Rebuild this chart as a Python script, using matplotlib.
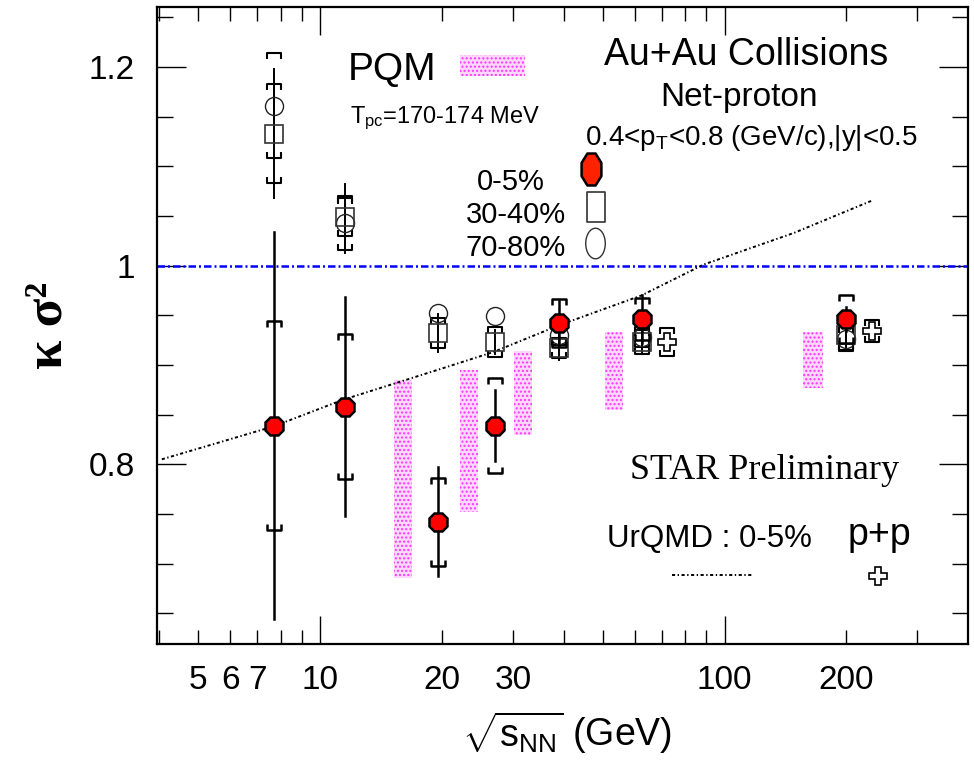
import matplotlib
matplotlib.use("Agg")
import matplotlib.pyplot as plt
import matplotlib.ticker as mtick
from matplotlib import font_manager
from matplotlib.lines import Line2D
from matplotlib.patches import Rectangle
from matplotlib.path import Path
from matplotlib.transforms import Affine2D

# ---- data ----
energy = [7.7, 11.5, 19.6, 27, 39, 62.4, 200]

k_central = [0.839, 0.858, 0.742, 0.839, 0.942, 0.946, 0.946]
stat_central = [0.195, 0.110, 0.055, 0.036, 0.022, 0.024, 0.012]
sys_central = [0.105, 0.073, 0.044, 0.048, 0.024, 0.021, 0.024]

k_mid = [1.133, 1.049, 0.932, 0.923, 0.917, 0.923, 0.930]
stat_mid = [0.065, 0.033, 0.019, 0.012, 0.012, 0.012, 0.010]
sys_mid = [0.050, 0.019, 0.015, 0.015, 0.010, 0.012, 0.015]

k_peri = [1.161, 1.043, 0.952, 0.949, 0.930, 0.928, 0.926]
stat_peri = [0.035, 0.030, 0.0, 0.0, 0.010, 0.012, 0.010]
sys_peri = [0.053, 0.027, 0.0, 0.0, 0.010, 0.010, 0.012]

pp_energy = [72, 232]
k_pp = [0.923, 0.934]
stat_pp = [0.008, 0.008]
sys_pp = [0.014, 0.011]

pqm_e_lo = [15.2, 22.2, 30.2, 50.5, 156.7]
pqm_e_hi = [16.9, 24.6, 33.5, 56.2, 175.0]
pqm_low = [0.685, 0.752, 0.829, 0.855, 0.877]
pqm_high = [0.885, 0.895, 0.914, 0.933, 0.933]

urqmd_energy = [4.06, 7.65, 11.4, 19.5, 26.8, 39, 62.3, 88.6, 148.5, 233]
urqmd_k = [0.805, 0.838, 0.865, 0.895, 0.913, 0.940, 0.970, 1.001, 1.033, 1.066]

x_major = [10, 100]
x_minor = [4, 5, 6, 7, 8, 9, 20, 30, 40, 50, 60, 70, 80, 90, 200, 300]
x_labeled = [5, 6, 7, 10, 20, 30, 100, 200]

names = {f.name for f in font_manager.fontManager.ttflist}
narrow = "Liberation Sans Narrow" if "Liberation Sans Narrow" in names else "Liberation Sans"
leg_size = 23 if narrow == "Liberation Sans Narrow" else 21

plt.rcParams["font.family"] = ["Liberation Sans", "DejaVu Sans"]
plt.rcParams["mathtext.fontset"] = "custom"
plt.rcParams["mathtext.rm"] = "Liberation Sans"
plt.rcParams["mathtext.it"] = "Liberation Sans:italic"
plt.rcParams["hatch.linewidth"] = 1.0

W, H = 974, 761
fig = plt.figure(figsize=(W / 100, H / 100), dpi=100)


def fx(px):
    return px / W


def fy(py):
    return 1 - py / H


ax = fig.add_axes([fx(157), fy(644), (968 - 157) / W, (644 - 7) / H])
ax.set_xscale("log")
ax.set_xlim(3.95, 400)
ax.set_ylim(0.619, 1.2605)


def brackets(x, y, err, lw=1.6, color="black", z=4):
    for xi, yi, e in zip(x, y, err):
        if e <= 0:
            continue
        x0, x1 = xi / 1.041, xi * 1.041
        leg = 0.006
        ax.plot([x0, x0, x1, x1], [yi + e - leg, yi + e, yi + e, yi + e - leg],
                color=color, lw=lw, zorder=z, solid_capstyle="butt")
        ax.plot([x0, x0, x1, x1], [yi - e + leg, yi - e, yi - e, yi - e + leg],
                color=color, lw=lw, zorder=z, solid_capstyle="butt")


def stat_bars(x, y, err, lw=1.6, z=4):
    for xi, yi, e in zip(x, y, err):
        if e <= 0:
            continue
        ax.plot([xi, xi], [yi - e, yi + e], color="black", lw=lw, zorder=z)


# PQM bands
for lo, hi, ylo, yhi in zip(pqm_e_lo, pqm_e_hi, pqm_low, pqm_high):
    ax.fill_between([lo, hi], [ylo, ylo], [yhi, yhi], facecolor="#fcd8fc",
                    edgecolor="#ff33ff", hatch="....", linewidth=0, zorder=1)

# reference line at 1
ax.axhline(1.0, color="#0000ff", lw=1.8, ls=(0, (3.0, 1.2, 0.8, 1.2)), zorder=2)

# UrQMD
ax.plot(urqmd_energy, urqmd_k, color="black", lw=1.4, ls=(0, (1.6, 1.3, 0.7, 1.3)), zorder=3)

# 70-80 % circles and 30-40 % squares
stat_bars(energy, k_peri, stat_peri, lw=1.4)
brackets(energy, k_peri, sys_peri, lw=1.5)
stat_bars(energy, k_mid, stat_mid, lw=1.4)
brackets(energy, k_mid, sys_mid, lw=1.5)
ax.plot(energy, k_peri, ls="none", marker="o", ms=13, mfc="none", mec="#222222", mew=1.0, zorder=5)
ax.plot(energy, k_mid, ls="none", marker="s", ms=12.5, mfc="none", mec="#333333", mew=1.2, zorder=5)

# p+p
stat_bars(pp_energy, k_pp, stat_pp, lw=1.4)
brackets(pp_energy, k_pp, sys_pp, lw=1.5)
ax.plot(pp_energy, k_pp, ls="none", marker="P", ms=13, mfc="white", mec="black", mew=1.2, zorder=6)

# 0-5 % red
stat_bars(energy, k_central, stat_central, lw=1.8, z=6)
brackets(energy, k_central, sys_central, lw=1.8, z=6)
ax.plot(energy, k_central, ls="none", marker="8", ms=14, mfc="#ff0000", mec="black", mew=1.8, zorder=7)

# axes cosmetics
for s in ax.spines.values():
    s.set_linewidth(1.6)
ax.xaxis.set_major_locator(mtick.FixedLocator(x_major))
ax.xaxis.set_minor_locator(mtick.FixedLocator(x_minor))
lab = lambda v, pos: f"{v:g}" if round(v) in x_labeled else ""
ax.xaxis.set_major_formatter(mtick.FuncFormatter(lab))
ax.xaxis.set_minor_formatter(mtick.FuncFormatter(lab))
ax.yaxis.set_major_locator(mtick.FixedLocator([0.8, 1.0, 1.2]))
ax.yaxis.set_minor_locator(mtick.MultipleLocator(0.05))
ax.yaxis.set_major_formatter(mtick.FuncFormatter(lambda v, pos: f"{v:g}"))
ax.tick_params(which="both", direction="in", top=True, right=True, width=1.0, labelsize=24)
ax.tick_params(axis="x", which="major", length=20, pad=15)
ax.tick_params(axis="x", which="minor", length=10, pad=15)
ax.tick_params(axis="y", which="major", length=21, pad=16)
ax.tick_params(axis="y", which="minor", length=11.5)

# texts
fig.text(fx(348), fy(80), "PQM", fontsize=28, ha="left", va="baseline")
fig.add_artist(Rectangle((fx(460), fy(76)), 65 / W, 21 / H, transform=fig.transFigure,
                         facecolor="#fcd8fc", edgecolor="#ff33ff", hatch="....", linewidth=0))
fig.text(fx(350), fy(123), r"T$_{\mathrm{pc}}$=170-174 MeV", fontsize=17, ha="left", va="baseline")
fig.text(fx(746), fy(65), "Au+Au Collisions", fontsize=27, ha="center", va="baseline")
fig.text(fx(739), fy(106), "Net-proton", fontsize=24, ha="center", va="baseline")
fig.text(fx(751), fy(145), r"0.4<p$_{\mathrm{T}}$<0.8 (GeV/c),|y|<0.5", fontsize=20, ha="center", va="baseline")

fig.text(fx(545), fy(190), "0-5%", fontsize=leg_size, family=narrow, ha="right", va="baseline")
fig.text(fx(566), fy(223), "30-40%", fontsize=leg_size, family=narrow, ha="right", va="baseline")
fig.text(fx(566), fy(256), "70-80%", fontsize=leg_size, family=narrow, ha="right", va="baseline")

oct_marker = Path.unit_regular_polygon(8).transformed(Affine2D().rotate_deg(22.5).scale(0.62, 1.0))
rect_marker = Path([(-0.31, -0.5), (0.31, -0.5), (0.31, 0.5), (-0.31, 0.5), (-0.31, -0.5)],
                   [Path.MOVETO, Path.LINETO, Path.LINETO, Path.LINETO, Path.CLOSEPOLY])
ell_marker = Path.unit_circle().transformed(Affine2D().scale(0.64, 1.0))
fig.add_artist(Line2D([fx(591)], [fy(169)], marker=oct_marker, ms=23, mfc="#ff2200", mec="black",
                      mew=1.8, ls="none", transform=fig.transFigure))
fig.add_artist(Line2D([fx(596)], [fy(207)], marker=rect_marker, ms=22, mfc="none", mec="#333333",
                      mew=1.2, ls="none", transform=fig.transFigure))
fig.add_artist(Line2D([fx(595)], [fy(243)], marker=ell_marker, ms=22, mfc="none", mec="#333333",
                      mew=1.0, ls="none", transform=fig.transFigure))

fig.text(fx(630), fy(479), "STAR Preliminary", fontsize=26, family="Liberation Serif", ha="left", va="baseline")
fig.text(fx(607), fy(547), "UrQMD : 0-5%", fontsize=22.5, ha="left", va="baseline")
fig.text(fx(848), fy(545), "p+p", fontsize=27, ha="left", va="baseline")
fig.add_artist(Line2D([fx(672), fx(752)], [fy(575), fy(575)], color="black", lw=1.4,
                      ls=(0, (1.6, 1.3, 0.7, 1.3)), transform=fig.transFigure))
fig.add_artist(Line2D([fx(878)], [fy(576)], marker="P", ms=13, mfc="white", mec="black", mew=1.2,
                      ls="none", transform=fig.transFigure))

fig.text(fx(567), fy(733), r"$\sqrt{\mathrm{s}_{\mathrm{NN}}}$ (GeV)", fontsize=27, ha="center", va="center")
fig.text(fx(48), fy(325), "κ σ²", fontsize=38, fontweight="bold", family="Liberation Serif",
         rotation=90, ha="center", va="center")

fig.savefig("out.png", dpi=100)
